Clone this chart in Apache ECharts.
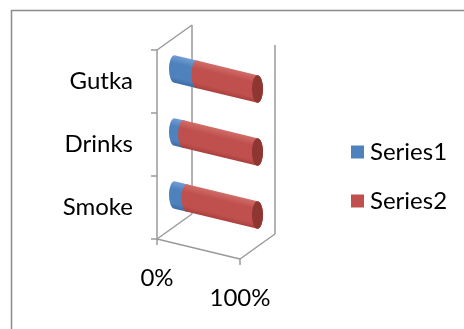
<!DOCTYPE html>
<html>
<head>
<meta charset="utf-8">
<script src="https://cdn.jsdelivr.net/npm/echarts@6/dist/echarts.min.js"></script>
<style>
  html, body { margin: 0; padding: 0; background: #fff; }
  #chart { width: 464px; height: 329px; }
</style>
</head>
<body>
<div id="chart"></div>
<script>
// Categories and raw series values (bars are drawn as 100% stacked cylinders)
const categories = ['Smoke', 'Drinks', 'Gutka'];
const series1 = [15, 11, 27];
const series2 = [85, 89, 73];
const seriesNames = ['Series1', 'Series2'];
const xTickValues = [0, 100];
const xTickLabels = ['0%', '100%'];

// Oblique projection used for the 3D look
const DEPTH_X = 35, DEPTH_Y = -25;   // back wall offset
const SLOPE = 20 / 83;               // downward slant of the value axis
const FONT = 'Lato';
const FONT_SIZE = 24;
const AXIS_GREY = '#9a9a9a';

const palettes = [
  { base: '#4f81bd', light: '#76a0d6', dark: '#3c6aa1', cap: '#35608f' },
  { base: '#c0504d', light: '#d26f6b', dark: '#a63f3c', cap: '#8f3532' }
];

// Percent-stacked segments: [start%, end%, categoryIndex]
function segments(idx) {
  return categories.map((c, i) => {
    const total = series1[i] + series2[i];
    const p1 = series1[i] / total * 100;
    return idx === 0 ? [0, p1, i] : [p1, 100, i];
  });
}

function project(cs, p, depthFrac) {
  return [
    p[0] + DEPTH_X * depthFrac,
    p[1] + (p[0] - cs.x) * SLOPE + DEPTH_Y * depthFrac
  ];
}

function cylinderRenderer(sIdx) {
  const pal = palettes[sIdx];
  return function (params, api) {
    const cs = params.coordSys;
    const cat = api.value(2);
    const band = api.size([0, 1])[1];
    const ry = band * 0.22;
    const rx = ry * 0.4;
    const a = project(cs, api.coord([api.value(0), cat]), 0.5);
    const b = project(cs, api.coord([api.value(1), cat]), 0.5);
    const body =
      'M' + a[0] + ' ' + (a[1] - ry) +
      ' L' + b[0] + ' ' + (b[1] - ry) +
      ' A' + rx + ' ' + ry + ' 0 0 1 ' + b[0] + ' ' + (b[1] + ry) +
      ' L' + a[0] + ' ' + (a[1] + ry) +
      ' A' + rx + ' ' + ry + ' 0 0 1 ' + a[0] + ' ' + (a[1] - ry) + ' Z';
    // shade across the cylinder, perpendicular to its axis
    const n = Math.sqrt(1 + SLOPE * SLOPE);
    const nx = -SLOPE / n, ny = 1 / n;
    const grad = new echarts.graphic.LinearGradient(
      a[0] - nx * ry, a[1] - ny * ry, a[0] + nx * ry, a[1] + ny * ry,
      [
        { offset: 0, color: pal.light },
        { offset: 0.3, color: pal.base },
        { offset: 0.8, color: pal.base },
        { offset: 1, color: pal.dark }
      ], true);
    const children = [{
      type: 'path',
      shape: { pathData: body },
      style: { fill: grad, stroke: null }
    }];
    if (api.value(1) >= 100) {
      const cap =
        'M' + b[0] + ' ' + (b[1] - ry) +
        ' A' + rx + ' ' + ry + ' 0 1 1 ' + b[0] + ' ' + (b[1] + ry) +
        ' A' + rx + ' ' + ry + ' 0 1 1 ' + b[0] + ' ' + (b[1] - ry) + ' Z';
      children.push({
        type: 'path',
        shape: { pathData: cap },
        style: { fill: pal.cap, stroke: null }
      });
    }
    return { type: 'group', children: children };
  };
}

// Walls, floor and the slanted value axis with its labels
function frameRenderer(params, api) {
  const cs = params.coordSys;
  const top = cs.y, bottom = cs.y + cs.height;
  const x0 = api.coord([0, 0])[0];
  const x1 = api.coord([100, 0])[0];
  const fl = project(cs, [x0, bottom], 0);
  const fr = project(cs, [x1, bottom], 0);
  const tl = project(cs, [x0, top], 0);
  const bl = project(cs, [x0, bottom], 1);
  const br = project(cs, [x1, bottom], 1);
  const btl = project(cs, [x0, top], 1);
  const btr = project(cs, [x1, top], 1);
  const ls = { stroke: AXIS_GREY, lineWidth: 1.5 };
  const line = (p, q) => ({
    type: 'line',
    shape: { x1: p[0], y1: p[1], x2: q[0], y2: q[1] },
    style: ls
  });
  const children = [
    line(tl, btl),
    line(btl, bl),
    line(fl, bl),
    line(fl, fr),
    line(fr, br),
    line(br, btr)
  ];
  xTickValues.forEach((v, i) => {
    const p = project(cs, [api.coord([v, 0])[0], bottom], 0);
    children.push(line(p, [p[0], p[1] + 6]));
    children.push({
      type: 'text',
      x: p[0], y: p[1] + 39,
      style: {
        text: xTickLabels[i],
        font: FONT_SIZE + 'px ' + FONT,
        fill: '#000',
        align: 'center',
        verticalAlign: 'middle'
      }
    });
  });
  return { type: 'group', children: children };
}

const chart = echarts.init(document.getElementById('chart'), null, { renderer: 'canvas' });

chart.setOption({
  animation: false,
  backgroundColor: '#fff',
  graphic: [{
    type: 'rect',
    shape: { x: 11.5, y: 10.5, width: 480, height: 360 },
    style: { fill: 'none', stroke: '#8c8c8c', lineWidth: 1.5 },
    z: -10
  }],
  grid: { left: 157, top: 50, width: 83, height: 189, containLabel: false },
  xAxis: { type: 'value', min: 0, max: 100, show: false },
  yAxis: {
    type: 'category',
    data: categories,
    axisLine: { show: true, lineStyle: { color: AXIS_GREY, width: 1.5 } },
    axisTick: { show: true, inside: false, length: 6, lineStyle: { color: AXIS_GREY, width: 1.5 } },
    axisLabel: { margin: 24, fontFamily: FONT, fontSize: FONT_SIZE, color: '#000' },
    splitLine: { show: false }
  },
  legend: {
    orient: 'vertical',
    left: 346,
    top: 134,
    itemWidth: 13,
    itemHeight: 13,
    itemGap: 23,
    icon: 'rect',
    data: seriesNames,
    textStyle: { fontFamily: FONT, fontSize: FONT_SIZE, color: '#000', lineHeight: 26, padding: [0, 0, 0, 1] }
  },
  series: [
    {
      name: 'frame',
      type: 'custom',
      z: 1,
      silent: true,
      renderItem: frameRenderer,
      encode: { x: 0, y: 1 },
      data: [[0, 0]]
    },
    {
      name: seriesNames[0],
      type: 'custom',
      z: 2,
      itemStyle: { color: palettes[0].base },
      renderItem: cylinderRenderer(0),
      encode: { x: [0, 1], y: 2 },
      data: segments(0)
    },
    {
      name: seriesNames[1],
      type: 'custom',
      z: 3,
      itemStyle: { color: palettes[1].base },
      renderItem: cylinderRenderer(1),
      encode: { x: [0, 1], y: 2 },
      data: segments(1)
    }
  ]
});
</script>
</body>
</html>
